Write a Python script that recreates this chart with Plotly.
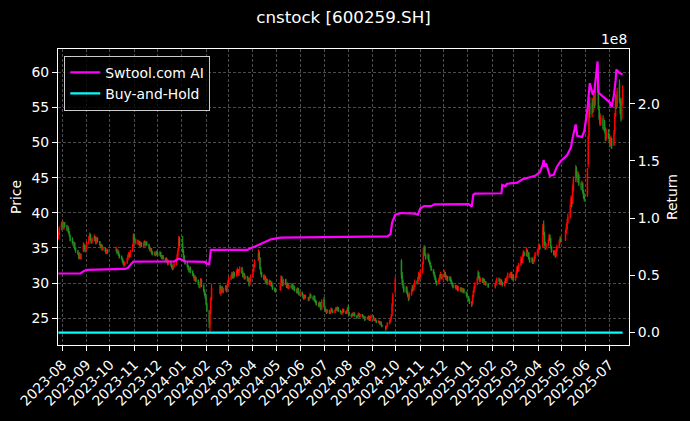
import pandas as pd
import plotly.graph_objects as go

# ---------------- data ----------------
title_text = "cnstock [600259.SH]"
series_names = ["Swtool.com AI", "Buy-and-Hold"]

holidays = [
    "2023-09-29", "2023-10-02", "2023-10-03", "2023-10-04", "2023-10-05", "2023-10-06",
    "2024-01-01", "2024-02-09", "2024-02-12", "2024-02-13", "2024-02-14", "2024-02-15", "2024-02-16",
    "2024-04-04", "2024-04-05", "2024-05-01", "2024-05-02", "2024-05-03", "2024-06-10",
    "2024-09-16", "2024-09-17", "2024-10-01", "2024-10-02", "2024-10-03", "2024-10-04", "2024-10-07",
    "2025-01-01", "2025-01-28", "2025-01-29", "2025-01-30", "2025-01-31", "2025-02-03", "2025-02-04",
    "2025-04-04", "2025-05-01", "2025-05-02", "2025-05-05", "2025-06-02",
]
first_day = "2023-07-27"
last_day = "2025-07-18"

close = [
    36.9, 37.7, 38.3,
    38.6, 37.9, 38.4, 38.2, 37.6, 37.9, 37.2, 36.8, 36.1, 35.9, 35.4, 35.6, 34.9, 34.6, 34.2, 33.7, 34.1, 33.6, 33.9, 35.2, 35.0, 34.6, 35.1,
    35.6, 36.4, 36.9, 36.2, 35.8, 36.3, 36.6, 36.1, 35.7, 36.4, 36.0, 35.5, 35.1, 35.4, 34.8, 35.0, 34.6, 34.3, 34.7, 34.4,
    34.8, 34.3, 34.6, 34.0, 33.7, 33.5, 33.1, 32.8, 32.6, 32.9, 33.4, 33.9, 34.2, 33.8, 34.5, 35.3, 36.6,
    36.2, 35.8, 36.1, 35.6, 35.9, 35.4, 35.7, 35.3, 35.6, 35.9, 35.4, 35.8, 35.5, 35.0, 34.7, 34.9, 34.4, 34.1, 34.3, 34.0, 34.4, 34.2,
    34.0, 34.3, 33.9, 33.6, 33.8, 33.5, 33.2, 33.5, 33.0, 32.8, 33.1, 32.6, 32.3, 32.0, 32.4, 32.7, 33.3, 33.9, 34.6, 35.8, 35.4,
    34.6, 33.7, 33.2, 32.8, 32.4, 32.0, 31.8, 32.1, 31.6, 31.2, 30.9, 30.5, 30.8, 30.3, 29.9, 29.5, 29.8, 30.4, 29.6, 28.9, 28.4, 28.0,
    27.0, 26.1, 24.4, 25.8, 27.6, 29.2, 28.6, 28.9, 29.3, 28.8, 29.1, 29.4, 28.9, 29.6, 30.2,
    30.6, 30.9, 31.3, 30.8, 31.4, 31.0, 31.6, 31.9, 31.2, 31.7, 32.1, 31.5, 31.0, 31.3, 30.7, 30.9, 30.4, 30.6, 29.8, 30.3, 30.9,
    31.8, 32.4, 33.1, 34.2, 33.6, 32.1, 31.4, 31.0, 30.6, 30.9, 30.2, 30.5, 29.9, 30.3, 29.8, 30.1, 29.6, 29.2, 29.0, 28.9,
    29.6, 30.8, 30.2, 29.7, 30.4, 29.8, 29.5, 29.9, 29.3, 29.6, 29.4, 29.8, 29.1, 29.5, 29.0, 28.7, 29.2, 28.6, 28.4, 28.6,
    28.3, 28.0, 27.8, 28.2, 27.9, 27.6, 27.9, 28.3, 28.0, 27.7, 28.1, 27.5, 27.3, 27.0, 26.8, 27.2, 26.6, 26.3, 27.4,
    26.6, 26.2, 26.0, 25.8, 26.1, 25.7, 25.9, 26.3, 26.0, 25.8, 26.1, 26.4, 26.2, 26.5, 26.0, 25.9, 25.6, 25.8, 26.2, 25.9, 25.7, 26.0, 26.4,
    25.8, 25.5, 25.3, 25.6, 25.4, 25.7, 25.3, 25.1, 25.4, 25.6, 25.2, 25.5, 25.3, 25.0, 25.2, 24.8, 25.1, 24.9, 25.2, 24.7, 25.0, 25.3,
    25.0, 24.7, 24.9, 24.6, 24.4, 24.5, 24.2, 24.4, 24.0, 23.8, 23.6, 23.9, 24.3, 24.6, 24.9, 25.4, 26.8, 28.2, 30.4,
    31.2, 30.1, 29.5, 28.9, 29.3, 28.6, 28.2, 27.8, 28.4, 28.9, 29.4, 29.1, 29.7, 30.2, 30.0, 30.6, 31.2, 30.8,
    31.6, 32.7, 34.4, 34.9, 34.0, 33.6, 33.9, 33.2, 32.8, 32.4, 31.9, 31.4, 31.0, 30.6, 30.2, 29.9, 30.4, 30.9, 31.2, 30.7, 31.0,
    31.4, 31.0, 30.6, 30.9, 30.4, 30.8, 30.3, 30.0, 29.7, 29.4, 29.6, 29.2, 29.5, 29.0, 29.3, 28.9, 29.2, 28.8, 29.1, 28.7, 28.5, 28.0,
    27.6, 27.2, 27.0, 28.1, 28.8, 29.4, 29.9, 30.6, 31.4, 30.8, 30.3, 30.6, 30.2, 30.5, 29.9, 30.1, 29.8, 29.5,
    29.8, 30.2, 30.6, 30.3, 29.9, 30.4, 30.0, 29.7, 30.1, 30.5, 30.2, 30.8, 31.2, 30.9, 31.4, 30.7, 31.0, 30.5,
    30.9, 31.5, 32.2, 31.8, 32.6, 33.4, 33.0, 33.8, 34.3, 34.0, 34.6, 33.9, 34.2, 33.5, 33.1, 33.4, 32.9, 33.2, 33.6, 34.1, 34.4,
    34.8, 35.3, 34.9, 37.8, 37.1, 35.6, 35.0, 35.4, 36.0, 36.7, 36.2, 35.1, 34.5, 34.1, 34.4, 33.9, 34.6, 35.2, 35.8, 36.3, 36.0,
    37.2, 37.9, 38.6, 39.4, 40.8, 41.9, 41.3, 43.5, 44.6, 46.2, 45.3, 44.8, 45.4, 44.1, 43.6, 44.2, 43.0, 42.4, 42.0,
    46.3, 50.9, 55.2, 54.0, 55.6, 54.8, 56.3, 55.4, 57.6, 58.3, 54.9, 53.6, 52.8, 53.4, 52.1, 52.9, 51.8, 50.6, 51.4, 50.9,
    50.2, 49.8, 50.6, 49.6, 51.3, 53.8, 56.4, 55.1, 57.2, 56.0, 54.3, 53.4, 55.8, 57.4,
]

open_ = [
    36.5, 37.0, 37.8,
    38.2, 38.5, 37.8, 38.5, 38.1, 37.5, 37.8, 37.1, 36.7, 36.2, 35.8, 35.3, 35.6, 34.9, 34.5, 34.1, 33.6, 34.0, 33.5, 34.6, 35.3, 35.0, 34.5,
    35.0, 35.7, 36.3, 36.8, 36.1, 35.8, 36.2, 36.5, 36.0, 35.8, 36.3, 35.9, 35.4, 35.2, 35.3, 34.8, 34.9, 34.5, 34.3, 34.6,
    34.6, 34.7, 34.3, 34.5, 34.0, 33.7, 33.4, 33.1, 32.8, 32.6, 32.9, 33.4, 33.9, 34.1, 33.9, 34.6, 35.4,
    36.7, 36.1, 35.7, 36.0, 35.6, 35.8, 35.4, 35.7, 35.2, 35.6, 35.9, 35.4, 35.8, 35.4, 35.0, 34.7, 34.9, 34.4, 34.1, 34.3, 34.0, 34.4,
    34.2, 34.0, 34.3, 33.9, 33.6, 33.8, 33.5, 33.2, 33.4, 33.0, 32.8, 33.1, 32.6, 32.3, 32.0, 32.4, 32.7, 33.3, 33.9, 34.7, 36.3,
    35.6, 34.5, 33.8, 33.2, 32.8, 32.4, 32.0, 31.7, 32.1, 31.6, 31.2, 30.9, 30.4, 30.8, 30.3, 29.9, 29.4, 29.7, 30.4, 29.6, 28.9, 28.5,
    27.9, 27.0, 25.9, 24.1, 25.9, 27.8, 29.5, 28.5, 28.9, 29.3, 28.7, 29.1, 29.4, 28.9, 29.6,
    30.2, 30.6, 30.9, 31.3, 30.8, 31.4, 31.0, 31.6, 31.9, 31.2, 31.7, 32.1, 31.5, 31.0, 31.3, 30.7, 30.9, 30.4, 30.6, 29.8, 30.3,
    30.9, 31.8, 32.4, 33.3, 34.2, 33.5, 32.0, 31.4, 31.0, 30.6, 30.9, 30.2, 30.5, 29.9, 30.3, 29.8, 30.1, 29.6, 29.2, 29.0,
    29.1, 29.6, 30.8, 30.2, 29.7, 30.4, 29.8, 29.5, 29.9, 29.3, 29.6, 29.4, 29.8, 29.1, 29.5, 29.0, 28.7, 29.2, 28.6, 28.4,
    28.6, 28.3, 28.0, 27.8, 28.2, 27.9, 27.6, 27.9, 28.3, 28.0, 27.7, 28.1, 27.5, 27.3, 27.0, 26.8, 27.2, 26.6, 26.3,
    27.6, 26.6, 26.2, 26.0, 25.8, 26.1, 25.7, 25.9, 26.3, 26.0, 25.8, 26.1, 26.4, 26.2, 26.5, 26.0, 25.9, 25.6, 25.8, 26.2, 25.9, 25.7, 26.0,
    26.5, 25.8, 25.5, 25.3, 25.6, 25.4, 25.7, 25.3, 25.1, 25.4, 25.6, 25.2, 25.5, 25.3, 25.0, 25.2, 24.8, 25.1, 24.9, 25.2, 24.7, 25.0,
    25.3, 25.0, 24.7, 24.9, 24.6, 24.4, 24.5, 24.2, 24.4, 24.0, 23.8, 23.6, 23.9, 24.3, 24.5, 24.9, 25.5, 27.0, 28.8,
    33.1, 31.0, 30.2, 29.4, 28.8, 29.3, 28.5, 28.2, 27.8, 28.4, 28.9, 29.4, 29.1, 29.6, 30.2, 30.0, 30.6, 31.1,
    30.8, 31.6, 32.8, 34.3, 35.0, 34.0, 33.5, 33.9, 33.1, 32.8, 32.4, 31.9, 31.4, 31.0, 30.6, 30.2, 29.9, 30.4, 30.9, 31.2, 30.7,
    31.0, 31.4, 31.0, 30.6, 30.9, 30.4, 30.8, 30.3, 30.0, 29.7, 29.4, 29.6, 29.2, 29.5, 29.0, 29.3, 28.9, 29.2, 28.8, 29.1, 28.7, 28.5,
    28.0, 27.6, 27.2, 27.0, 28.1, 28.8, 29.4, 29.9, 30.6, 31.4, 30.8, 30.3, 30.6, 30.2, 30.5, 29.9, 30.1, 29.8,
    29.4, 29.8, 30.2, 30.6, 30.3, 29.9, 30.4, 30.0, 29.7, 30.1, 30.5, 30.2, 30.8, 31.2, 30.9, 31.4, 30.7, 31.0,
    30.5, 30.9, 31.5, 32.2, 31.8, 32.6, 33.4, 33.0, 33.8, 34.3, 34.0, 34.6, 33.9, 34.2, 33.5, 33.1, 33.4, 32.9, 33.2, 33.6, 34.1,
    34.4, 34.8, 35.3, 35.2, 38.2, 37.0, 35.6, 35.0, 35.4, 36.0, 36.7, 36.2, 35.1, 34.5, 34.1, 34.4, 33.9, 34.6, 35.2, 35.8, 36.3,
    36.2, 37.3, 37.8, 38.7, 39.5, 40.9, 41.8, 41.4, 43.4, 44.7, 46.0, 45.2, 44.7, 45.3, 44.0, 43.5, 44.1, 43.0, 42.3,
    42.5, 47.0, 51.0, 55.5, 54.1, 55.8, 54.7, 56.2, 55.5, 57.8, 58.0, 54.7, 53.5, 52.7, 53.3, 52.0, 52.8, 51.7, 50.5, 51.3,
    50.8, 50.3, 49.8, 50.5, 49.7, 51.4, 53.9, 56.5, 55.2, 58.2, 56.0, 54.2, 53.5, 55.6,
]

high = [
    37.3, 38.1, 38.7,
    38.9, 38.8, 38.7, 38.7, 38.3, 38.2, 38.0, 37.4, 36.9, 36.5, 36.0, 35.9, 35.8, 35.1, 34.7, 34.3, 34.4, 34.2, 34.2, 35.8, 35.6, 35.2, 35.4,
    35.9, 36.7, 37.2, 37.0, 36.3, 36.5, 36.9, 36.7, 36.2, 36.6, 36.5, 36.0, 35.6, 35.6, 35.5, 35.2, 35.1, 34.7, 34.9, 34.8,
    35.2, 34.9, 34.8, 34.6, 34.2, 33.9, 33.6, 33.3, 33.0, 33.1, 33.6, 34.1, 34.4, 34.3, 34.7, 35.6, 37.1,
    37.0, 36.4, 36.3, 36.2, 36.1, 36.0, 35.9, 35.8, 35.8, 36.1, 36.0, 36.0, 35.9, 35.6, 35.2, 35.1, 35.0, 34.6, 34.5, 34.4, 34.6, 34.6,
    34.4, 34.6, 34.4, 34.0, 34.0, 34.0, 33.6, 33.7, 33.5, 33.1, 33.3, 33.2, 32.8, 32.5, 32.6, 33.0, 33.6, 34.2, 35.0, 36.7, 36.6,
    36.7, 34.8, 34.0, 33.4, 33.0, 32.6, 32.2, 32.4, 32.3, 31.8, 31.4, 31.1, 31.1, 30.9, 30.5, 30.1, 30.0, 30.7, 30.6, 29.8, 29.1, 28.7,
    28.1, 27.2, 26.2, 26.1, 28.0, 29.9, 29.8, 29.2, 29.6, 29.5, 29.3, 29.7, 29.6, 29.9, 30.5,
    30.9, 31.2, 31.6, 31.5, 31.7, 31.6, 31.9, 32.2, 32.0, 31.9, 32.4, 32.3, 31.7, 31.5, 31.4, 31.1, 31.0, 30.8, 30.8, 30.5, 31.2,
    32.1, 32.7, 33.4, 34.8, 34.6, 33.7, 32.3, 31.6, 31.2, 31.2, 31.0, 30.7, 30.6, 30.5, 30.4, 30.3, 30.2, 29.8, 29.4, 29.3,
    29.8, 31.1, 31.0, 30.4, 30.6, 30.6, 30.0, 30.1, 30.0, 29.8, 29.8, 30.0, 29.9, 29.7, 29.6, 29.2, 29.4, 29.3, 28.8, 28.8,
    28.8, 28.5, 28.2, 28.4, 28.3, 28.0, 28.1, 28.6, 28.4, 28.1, 28.3, 28.2, 27.7, 27.5, 27.2, 27.4, 27.3, 26.8, 27.7,
    28.0, 26.8, 26.4, 26.2, 26.3, 26.2, 26.0, 26.5, 26.4, 26.1, 26.3, 26.6, 26.5, 26.7, 26.6, 26.2, 26.0, 26.0, 26.4, 26.3, 26.0, 26.2, 26.6,
    26.9, 25.9, 25.6, 25.8, 25.7, 25.9, 25.8, 25.4, 25.5, 25.8, 25.7, 25.6, 25.6, 25.4, 25.3, 25.3, 25.2, 25.2, 25.4, 25.3, 25.1, 25.5,
    25.4, 25.1, 25.0, 25.0, 24.7, 24.7, 24.6, 24.5, 24.5, 24.1, 23.9, 24.0, 24.4, 24.8, 25.1, 25.6, 27.2, 28.6, 30.9,
    33.4, 31.6, 30.5, 29.8, 29.6, 29.5, 28.9, 28.4, 28.7, 29.2, 29.7, 29.6, 29.9, 30.5, 30.4, 30.9, 31.6, 31.4,
    31.9, 33.0, 35.0, 35.4, 35.3, 34.2, 34.3, 34.1, 33.3, 33.0, 32.5, 32.0, 31.6, 31.2, 30.8, 30.4, 30.7, 31.2, 31.6, 31.3, 31.3,
    31.8, 31.6, 31.2, 31.1, 31.0, 31.0, 30.9, 30.5, 30.1, 29.8, 29.8, 29.7, 29.7, 29.6, 29.5, 29.4, 29.4, 29.3, 29.3, 29.2, 28.8, 28.6,
    28.2, 27.8, 27.4, 28.3, 29.0, 29.6, 30.1, 30.9, 31.8, 31.6, 31.0, 30.8, 30.8, 30.7, 30.6, 30.3, 30.3, 30.0,
    30.0, 30.4, 30.8, 30.8, 30.5, 30.6, 30.5, 30.2, 30.3, 30.7, 30.7, 31.0, 31.5, 31.4, 31.6, 31.6, 31.3, 31.2,
    31.2, 31.8, 32.5, 32.4, 32.9, 33.8, 33.6, 34.1, 34.7, 34.5, 35.1, 34.8, 34.5, 34.4, 33.7, 33.7, 33.6, 33.4, 33.9, 34.4, 34.8,
    35.1, 35.7, 35.5, 38.4, 38.9, 37.3, 35.9, 35.7, 36.3, 37.0, 36.9, 36.4, 35.3, 34.7, 34.7, 34.5, 34.9, 35.5, 36.2, 36.7, 36.6,
    37.6, 38.4, 39.1, 39.9, 41.3, 42.5, 42.3, 44.0, 45.2, 46.8, 46.6, 45.8, 45.9, 45.6, 44.4, 44.6, 44.3, 43.3, 42.8,
    46.3, 51.0, 55.8, 56.5, 56.4, 56.2, 57.0, 56.8, 58.4, 59.6, 58.5, 55.3, 54.2, 54.0, 53.9, 53.5, 53.2, 52.2, 52.0, 51.9,
    51.3, 50.8, 51.0, 50.7, 51.8, 54.2, 56.9, 56.8, 57.8, 59.0, 56.4, 54.6, 56.3, 58.2,
]

low = [
    36.2, 36.8, 37.5,
    37.9, 37.7, 37.6, 37.9, 37.4, 37.3, 37.0, 36.6, 35.9, 35.6, 35.2, 35.1, 34.7, 34.3, 34.0, 33.4, 33.4, 33.4, 33.3, 34.4, 34.8, 34.4, 34.3,
    34.8, 35.5, 36.1, 36.0, 35.6, 35.6, 36.0, 35.9, 35.5, 35.6, 35.8, 35.3, 34.9, 35.0, 34.6, 34.6, 34.4, 34.1, 34.1, 34.2,
    34.4, 34.1, 34.1, 33.8, 33.5, 33.3, 32.9, 32.6, 32.3, 32.4, 32.7, 33.2, 33.7, 33.6, 33.7, 34.4, 35.2,
    35.9, 35.6, 35.5, 35.4, 35.4, 35.2, 35.2, 35.1, 35.0, 35.4, 35.2, 35.2, 35.3, 34.8, 34.5, 34.5, 34.2, 33.9, 33.9, 33.8, 33.8, 34.0,
    33.8, 33.8, 33.7, 33.4, 33.4, 33.3, 33.0, 33.0, 32.8, 32.5, 32.6, 32.4, 32.1, 31.8, 31.9, 32.2, 32.5, 33.1, 33.7, 34.5, 35.2,
    34.3, 33.5, 33.0, 32.6, 32.2, 31.8, 31.5, 31.5, 31.4, 31.0, 30.7, 30.3, 30.2, 30.1, 29.7, 29.3, 29.2, 29.5, 29.4, 28.7, 28.2, 27.7,
    26.8, 25.9, 23.6, 23.0, 25.6, 27.5, 28.4, 28.2, 28.7, 28.6, 28.5, 28.9, 28.7, 28.7, 29.4,
    30.0, 30.4, 30.7, 30.6, 30.6, 30.8, 30.9, 31.4, 31.0, 31.0, 31.5, 31.3, 30.8, 30.8, 30.5, 30.5, 30.2, 30.2, 29.5, 29.6, 30.1,
    30.7, 31.6, 32.2, 33.1, 33.4, 31.9, 31.2, 30.8, 30.4, 30.4, 30.0, 30.0, 29.7, 29.7, 29.6, 29.6, 29.4, 29.0, 28.7, 28.6,
    28.9, 29.5, 30.0, 29.5, 29.6, 29.7, 29.3, 29.3, 29.1, 29.1, 29.2, 29.2, 29.0, 29.0, 28.8, 28.5, 28.5, 28.4, 28.2, 28.2,
    28.1, 27.8, 27.6, 27.7, 27.8, 27.4, 27.5, 27.8, 27.8, 27.5, 27.6, 27.3, 27.1, 26.8, 26.6, 26.7, 26.4, 26.1, 26.2,
    26.5, 26.1, 25.9, 25.6, 25.7, 25.6, 25.6, 25.8, 25.9, 25.7, 25.7, 26.0, 26.1, 26.1, 25.9, 25.8, 25.5, 25.5, 25.7, 25.8, 25.6, 25.6, 25.9,
    25.6, 25.3, 25.1, 25.2, 25.3, 25.3, 25.2, 24.9, 25.0, 25.3, 25.1, 25.1, 25.2, 24.9, 24.9, 24.6, 24.7, 24.8, 24.8, 24.6, 24.6, 24.9,
    24.9, 24.6, 24.6, 24.5, 24.3, 24.3, 24.1, 24.1, 23.9, 23.7, 23.2, 23.5, 23.8, 24.1, 24.4, 24.8, 25.3, 26.7, 28.5,
    30.6, 29.7, 29.2, 28.6, 28.6, 28.4, 28.0, 27.4, 27.6, 28.2, 28.7, 28.9, 28.9, 29.4, 29.8, 29.8, 30.3, 30.5,
    30.6, 31.4, 32.6, 34.0, 33.8, 33.3, 33.3, 33.0, 32.6, 32.2, 31.7, 31.2, 30.8, 30.4, 30.0, 29.6, 29.8, 30.2, 30.7, 30.5, 30.5,
    30.8, 30.8, 30.4, 30.4, 30.2, 30.3, 30.1, 29.8, 29.5, 29.2, 29.3, 29.0, 29.1, 28.8, 28.9, 28.7, 28.8, 28.6, 28.7, 28.5, 28.2, 27.8,
    27.4, 27.0, 26.6, 26.9, 27.9, 28.6, 29.2, 29.7, 30.4, 30.6, 30.1, 30.1, 30.0, 30.0, 29.7, 29.7, 29.6, 29.3,
    29.2, 29.6, 30.0, 30.1, 29.7, 29.7, 29.8, 29.5, 29.5, 29.9, 30.0, 30.0, 30.6, 30.7, 30.7, 30.5, 30.5, 30.3,
    30.3, 30.7, 31.3, 31.6, 31.6, 32.4, 32.8, 32.8, 33.6, 33.8, 33.8, 33.7, 33.7, 33.3, 32.9, 32.9, 32.7, 32.7, 33.0, 33.4, 33.9,
    34.2, 34.6, 34.7, 35.0, 36.8, 35.3, 34.7, 34.8, 35.2, 35.8, 36.0, 34.9, 34.3, 33.9, 33.9, 33.6, 33.7, 34.4, 35.0, 35.6, 35.8,
    36.0, 37.0, 37.5, 38.4, 39.2, 40.6, 40.8, 41.2, 43.0, 44.4, 45.0, 44.3, 44.4, 43.8, 43.2, 43.2, 42.7, 42.0, 41.6,
    42.3, 46.5, 50.6, 53.5, 53.6, 54.2, 54.4, 55.0, 55.2, 57.3, 54.6, 53.2, 52.4, 52.4, 51.8, 51.7, 51.4, 50.2, 50.3, 50.5,
    49.9, 49.3, 49.6, 49.1, 49.5, 51.2, 53.7, 54.8, 55.0, 55.6, 54.0, 53.0, 53.2, 55.3,
]

# strategy equity curve (units of 1e8), read at its turning points
ai_dates = [
    "2023-07-27", "2023-08-24", "2023-08-28", "2023-09-01", "2023-10-20", "2023-10-24", "2023-10-27",
    "2023-10-31", "2023-12-22", "2023-12-28", "2024-01-02", "2024-01-04", "2024-01-31", "2024-02-02",
    "2024-02-05", "2024-02-06", "2024-02-07", "2024-03-25", "2024-03-28", "2024-04-03", "2024-04-08",
    "2024-04-10", "2024-04-16", "2024-04-19", "2024-04-24", "2024-05-06", "2024-06-14", "2024-06-18",
    "2024-07-01", "2024-09-20", "2024-09-24", "2024-09-26", "2024-09-30", "2024-10-08", "2024-10-25",
    "2024-10-29", "2024-11-01", "2024-11-06", "2024-11-15", "2024-11-19", "2025-01-02", "2025-01-06",
    "2025-01-08", "2025-01-10", "2025-02-13", "2025-02-14", "2025-02-18", "2025-02-20", "2025-03-05",
    "2025-03-12", "2025-03-20", "2025-03-28", "2025-04-03", "2025-04-07", "2025-04-08", "2025-04-09",
    "2025-04-11", "2025-04-14", "2025-04-16", "2025-04-21", "2025-04-25", "2025-04-30", "2025-05-08",
    "2025-05-13", "2025-05-15", "2025-05-19", "2025-05-21", "2025-05-27", "2025-05-30", "2025-06-03",
    "2025-06-05", "2025-06-06", "2025-06-10", "2025-06-12", "2025-06-16", "2025-06-17", "2025-06-20",
    "2025-06-25", "2025-07-02", "2025-07-04", "2025-07-07", "2025-07-09", "2025-07-10", "2025-07-14",
    "2025-07-18",
]
ai_return_e8 = [
    0.516, 0.516, 0.535, 0.548, 0.556, 0.565, 0.590,
    0.620, 0.622, 0.645, 0.635, 0.622, 0.618, 0.600,
    0.597, 0.690, 0.722, 0.722, 0.735, 0.750, 0.765,
    0.775, 0.790, 0.800, 0.815, 0.830, 0.832, 0.838,
    0.835, 0.840, 0.860, 0.960, 1.030, 1.045, 1.040,
    1.030, 1.085, 1.105, 1.105, 1.120, 1.122, 1.100,
    1.205, 1.215, 1.218, 1.290, 1.280, 1.300, 1.310,
    1.340, 1.355, 1.370, 1.400, 1.470, 1.510, 1.450,
    1.480, 1.420, 1.370, 1.380, 1.450, 1.500, 1.550,
    1.620, 1.700, 1.820, 1.720, 1.710, 1.760, 1.950,
    2.150, 2.180, 2.080, 2.120, 2.370, 2.100, 2.080,
    2.050, 2.010, 1.970, 2.080, 2.200, 2.300, 2.270,
    2.255,
]

# ---------------- figure ----------------
dates = [d for d in pd.bdate_range(first_day, last_day) if d.strftime("%Y-%m-%d") not in holidays]
n = min(len(dates), len(close), len(open_), len(high), len(low))
dates = dates[:n]
o = open_[:n]
c = close[:n]
h = [max(a, b, x) for a, b, x in zip(high[:n], o, c)]
l = [min(a, b, x) for a, b, x in zip(low[:n], o, c)]

bh_e8 = [(v / c[0] - 1.0) / 1e8 for v in c]

W, H = 690, 421
ml, mr, mt, mb = 58, 61, 49, 71
FONT = "DejaVu Sans"
fs = 13.9

month_ticks = pd.date_range("2023-08-01", "2025-07-01", freq="MS")
month_text = [d.strftime("%Y-%m") for d in month_ticks]

fig = go.Figure()
fig.add_trace(go.Candlestick(
    x=dates, open=o, high=h, low=l, close=c,
    increasing=dict(line=dict(color="#ff0000", width=1.2), fillcolor="#ff0000"),
    decreasing=dict(line=dict(color="#1f8f1f", width=1.2), fillcolor="#1f8f1f"),
    whiskerwidth=0, showlegend=False, hoverinfo="skip", yaxis="y",
))
fig.add_trace(go.Scatter(
    x=pd.to_datetime(ai_dates), y=ai_return_e8, mode="lines", name=series_names[0],
    line=dict(color="#ff00ff", width=2.2), yaxis="y2",
))
fig.add_trace(go.Scatter(
    x=dates, y=bh_e8, mode="lines", name=series_names[1],
    line=dict(color="#00ffff", width=2.2), yaxis="y2",
))

grid = dict(showgrid=True, gridcolor="rgba(150,150,150,0.5)", gridwidth=0.6, griddash="3px,2px")
axis_common = dict(showline=True, linecolor="white", linewidth=1, ticks="outside", ticklen=5,
                   tickcolor="white", tickfont=dict(family=FONT, size=fs, color="white"), zeroline=False)

fig.update_layout(
    width=W, height=H,
    margin=dict(l=ml, r=mr, t=mt, b=mb, pad=0),
    paper_bgcolor="black", plot_bgcolor="black",
    font=dict(family=FONT, size=fs, color="white"),
    title=dict(text=title_text, x=0.5, xref="paper", xanchor="center", y=1 - 17 / H, yref="container",
               yanchor="middle", font=dict(family=FONT, size=16.7, color="white")),
    xaxis=dict(type="date", range=["2023-07-26 12:00", "2025-07-26 05:00"], tickvals=month_ticks,
               ticktext=month_text, tickangle=-45, mirror=True, rangeslider=dict(visible=False),
               **grid, **axis_common),
    yaxis=dict(range=[21.17, 63.33], tickvals=[25, 30, 35, 40, 45, 50, 55, 60], mirror=True,
               title=dict(text="Price", font=dict(family=FONT, size=fs, color="white"), standoff=6),
               **grid, **axis_common),
    yaxis2=dict(overlaying="y", side="right", range=[-0.109, 2.479], tickvals=[0, 0.5, 1.0, 1.5, 2.0],
                tickformat=".1f", showgrid=False,
                title=dict(text="Return", font=dict(family=FONT, size=fs, color="white"), standoff=8),
                **axis_common),
    legend=dict(x=0.011, y=0.977, xanchor="left", yanchor="top", bgcolor="rgba(0,0,0,0.8)",
                bordercolor="#cccccc", borderwidth=1, font=dict(family=FONT, size=fs, color="white"),
                tracegroupgap=2),
    showlegend=True,
    annotations=[dict(text="1e8", x=1, xref="paper", xanchor="right", y=1, yref="paper",
                      yanchor="bottom", yshift=0, showarrow=False,
                      font=dict(family=FONT, size=fs, color="white"))],
)

fig.write_html("out.html", config={"displayModeBar": False},
               post_script="document.body.style.margin='0';")
